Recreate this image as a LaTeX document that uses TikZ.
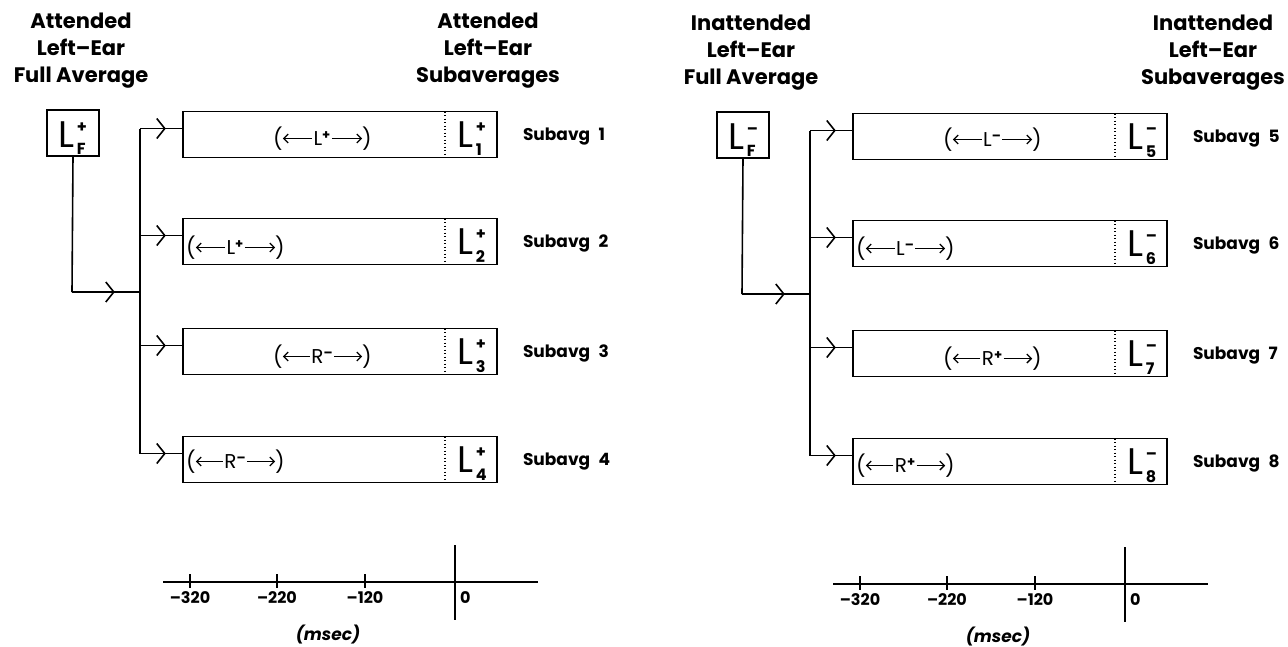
\documentclass[tikz,border=0pt]{standalone}
\usepackage{fontspec}
\setmainfont{Poppins}
\usetikzlibrary{arrows.meta,decorations.markings,calc}
\newcommand\Lfont{\fontsize{37}{37}\selectfont}
\newcommand\Sfont{\fontsize{16}{16}\selectfont\bfseries}
\newcommand\Llab[2]{{\Lfont L}\kern3pt\rlap{\raisebox{15pt}{\Sfont #1}}\raisebox{-7.5pt}{\Sfont #2}}
\newcommand\ilab[2]{#1\raisebox{6pt}{\fontsize{13}{13}\selectfont\bfseries #2}}
\tikzset{
  x=1pt, y=-1pt,
  every node/.style={inner sep=0pt, outer sep=0pt},
  wire/.style={line width=1.6pt},
  sbox/.style={draw, line width=1.6pt, minimum width=314pt, minimum height=46pt},
  lfbox/.style={draw, line width=1.6pt, minimum width=52pt, minimum height=46pt},
  dotline/.style={line width=1.3pt, dash pattern=on 1.3pt off 2.2pt},
  chev/.style={line width=1.6pt, postaction={decorate}, decoration={markings,
      mark=at position #1 with {\arrow{Straight Barb[length=8pt,width=20pt,line width=1.6pt]}}}},
  chev/.default=0.6,
  ivarrow/.style={line width=1.2pt, -{Straight Barb[length=4.5pt,width=9pt,line width=1.3pt]}},
  ivl/.style={font=\fontsize{20}{20}\selectfont, inner sep=1.5pt},
  paren/.style={font=\fontsize{21}{21}\selectfont},
  lab/.style={anchor=base west},
  title/.style={font=\fontsize{21}{27}\selectfont\bfseries, align=center, anchor=north},
  subav/.style={font=\fontsize{17}{17}\selectfont\bfseries, anchor=base west},
  axlab/.style={font=\fontsize{16}{16}\selectfont\bfseries, anchor=base},
  unit/.style={font=\fontsize{17}{17}\selectfont\bfseries\itshape, anchor=base},
}
% #1 name, #2 y centre, #3 interval x, #4 interval dy, #5 interval label, #6 L sign, #7 number
\newcommand\subrow[7]{%
  \node[sbox] (#1) at (340,#2) {};
  \draw[dotline] ($(#1.north east)+(-52,0)$) -- ($(#1.south east)+(-52,0)$);
  \node[lab] (#1L) at ($(#1.east)+(-40,13)$) {\Llab{#6}{#7}};
  \node[subav] (#1S) at ($(#1.east)+(26,6)$) {Subavg\hspace{0.5em}#7};
  \node[ivl] (#1i) at (#3,#2+#4) {#5};
  \node[paren] (#1l) at (#3-44,#2+#4) {(};
  \node[paren] (#1r) at (#3+45,#2+#4) {)};
  \draw[ivarrow] (#1i.west) -- (#1l.east);
  \draw[ivarrow] (#1i.east) -- (#1r.west);
  \coordinate (#1s) at (140,#2-6);
  \draw[chev] (#1s) -- (#1s -| #1.west);
}
\newcommand\axis[1]{%
  \coordinate (#1a0) at (163,582);
  \coordinate (#1a1) at (538,582);
  \draw[wire] (#1a0) -- (#1a1);
  \foreach \xx/\tt in {190/--320,277/--220,365/--120}{
    \draw[line width=1.4pt] (\xx,574) -- (\xx,588);
    \node[axlab] at (\xx,603) {\tt};
  }
  \draw[wire] (455,545) -- (455,620);
  \node[axlab, anchor=base west] (#1zero) at (460,603) {0};
  \node[unit] (#1unit) at (328,640) {(msec)};
}
\begin{document}
\begin{tikzpicture}
\useasboundingbox (0,0) rectangle (1288,646);
% ---------------- left panel -----------------
\node[title] (aT1) at (81,13) {Attended\\Left--Ear\\Full Average};
\node[title] (aT2) at (488,13) {Attended\\Left--Ear\\Subaverages};
\node[lfbox] (aLF) at (73,133) {};
\node[lab] (aLFt) at ($(aLF.center)+(-15,14)$) {\Llab{+}{F}};
\coordinate (ac) at (72,292);
\coordinate (aj) at (140,292);
\draw[wire] (aLF.south) -- (ac);
\draw[chev=0.63] (ac) -- (aj);
\coordinate (abt) at (140,128.5);
\coordinate (abb) at (140,453.5);
\draw[wire] (abt) -- (abb);
\subrow{ab1}{134.5}{322}{4}{\ilab{L}{+}}{+}{1}
\subrow{ab2}{241.5}{235}{6}{\ilab{L}{+}}{+}{2}
\subrow{ab3}{351.5}{322}{5}{\ilab{R}{--}}{+}{3}
\subrow{ab4}{459.5}{235}{2}{\ilab{R}{--}}{+}{4}
\axis{a}
% ---------------- right panel -----------------
\begin{scope}[shift={(670,2)}]
\node[title] (bT1) at (81,13) {Inattended\\Left--Ear\\Full Average};
\node[title] (bT2) at (543,13) {Inattended\\Left--Ear\\Subaverages};
\node[lfbox] (bLF) at (73,133) {};
\node[lab] (bLFt) at ($(bLF.center)+(-15,14)$) {\Llab{--}{F}};
\coordinate (bc) at (72,292);
\coordinate (bj) at (140,292);
\draw[wire] (bLF.south) -- (bc);
\draw[chev=0.63] (bc) -- (bj);
\coordinate (bbt) at (140,128.5);
\coordinate (bbb) at (140,453.5);
\draw[wire] (bbt) -- (bbb);
\subrow{bb1}{134.5}{322}{3}{\ilab{L}{--}}{--}{5}
\subrow{bb2}{241.5}{235}{5}{\ilab{L}{--}}{--}{6}
\subrow{bb3}{351.5}{322}{5}{\ilab{R}{+}}{--}{7}
\subrow{bb4}{459.5}{235}{4}{\ilab{R}{+}}{--}{8}
\axis{b}
\end{scope}
\end{tikzpicture}
\end{document}
